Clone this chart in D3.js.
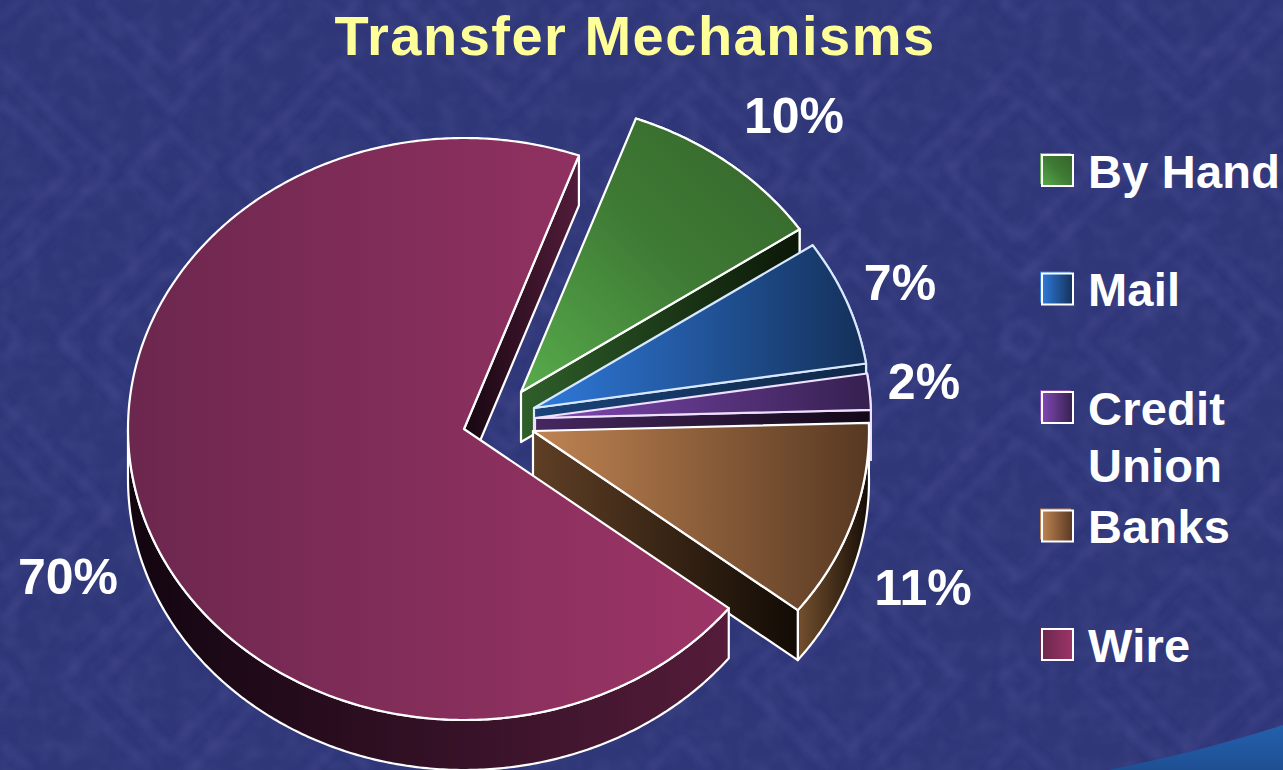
<!DOCTYPE html>
<html>
<head>
<meta charset="utf-8">
<title>Transfer Mechanisms</title>
<script src="https://cdn.jsdelivr.net/npm/d3@7"></script>
<style>
  html, body { margin: 0; padding: 0; background: #2f3779; overflow: hidden; }
  svg { display: block; }
  text { font-family: "Liberation Sans", Arial, sans-serif; font-weight: 700; fill: #ffffff; }
</style>
</head>
<body>
<script>
const categories = ["By Hand", "Mail", "Credit Union", "Banks", "Wire"];
const shares = [10, 7, 2, 11, 70];
const shareLabels = ["10%", "7%", "2%", "11%", "70%"];
const title = "Transfer Mechanisms";

const svgWidth = 1283;
const svgHeight = 770;

// Measurements

const rx = 336;
const ry = 291;
const depth = 50;
const rotation = 20;

// Where each wedge's tip ends up once it is pulled out of the pie
const tips = {
  "By Hand": [521, 392],
  Mail: [534, 408],
  "Credit Union": [535, 418],
  Banks: [533, 431],
  Wire: [464, 429],
};

// Label centre, relative to the tip of its wedge
const labelOffsets = {
  "By Hand": [273, -259],
  Mail: [366, -108],
  "Credit Union": [389, -19],
  Banks: [390, 174],
  Wire: [-396, 165],
};

const palette = {
  "By Hand": {
    top: ["#58ac4c", "#3f7b35", "#33632a"], diagonal: true,
    wall: ["#2f5f2a", "#0b1707"], rim: ["#2f5f2a", "#0b1707"], edge: "#ffffff",
  },
  Mail: {
    top: ["#2f7adb", "#14305a"],
    wall: ["#1a4378", "#0f2748"], rim: ["#1a4378", "#0f2748"], edge: "#d8e8ff",
  },
  "Credit Union": {
    top: ["#8149b4", "#35204f"],
    wall: ["#462860", "#120716"], rim: ["#2a1638", "#120716"], edge: "#f0e0ff",
  },
  Banks: {
    top: ["#c08452", "#573822"],
    wall: ["#5f3f25", "#120b05"], rim: ["#74502e", "#150d06"], edge: "#ffffff",
  },
  Wire: {
    top: ["#6c274e", "#9d3567"],
    wall: ["#170711", "#531c3a"], rim: ["#120510", "#541c3a"], edge: "#ffffff",
  },
};

const svg = d3
  .select("body")
  .append("svg")
  .attr("width", svgWidth)
  .attr("height", svgHeight)
  .attr("viewBox", `0 0 ${svgWidth} ${svgHeight}`);

const defs = svg.append("defs");

// Background

const motif = defs
  .append("pattern")
  .attr("id", "motif")
  .attr("patternUnits", "userSpaceOnUse")
  .attr("width", 340)
  .attr("height", 340);

[
  "M0 60 L110 170 L0 280",
  "M340 60 L230 170 L340 280",
  "M60 0 L170 110 L280 0",
  "M60 340 L170 230 L280 340",
  "M0 100 L70 170 L0 240",
  "M340 100 L270 170 L340 240",
  "M100 0 L170 70 L240 0",
  "M100 340 L170 270 L240 340",
  "M170 130 L210 170 L170 210 L130 170 Z",
  "M0 20 L20 0 M320 0 L340 20 M0 320 L20 340 M320 340 L340 320",
].forEach((d) =>
  motif
    .append("path")
    .attr("d", d)
    .attr("fill", "none")
    .attr("stroke", "#3a4183")
    .attr("stroke-width", 7)
);

defs
  .append("filter")
  .attr("id", "soften")
  .append("feGaussianBlur")
  .attr("stdDeviation", 3.2);

const mottle = defs
  .append("filter")
  .attr("id", "mottle")
  .attr("x", 0)
  .attr("y", 0)
  .attr("width", 1)
  .attr("height", 1);
mottle
  .append("feTurbulence")
  .attr("type", "fractalNoise")
  .attr("baseFrequency", 0.05)
  .attr("numOctaves", 2)
  .attr("seed", 4);
mottle
  .append("feColorMatrix")
  .attr("values", "0 0 0 0 0.2  0 0 0 0 0.22  0 0 0 0 0.47  0 0 0 1.6 -0.6");

svg.append("rect").attr("width", svgWidth).attr("height", svgHeight).attr("fill", "#2f3779");
svg
  .append("rect")
  .attr("width", svgWidth)
  .attr("height", svgHeight)
  .attr("fill", "url(#motif)")
  .attr("filter", "url(#soften)")
  .attr("opacity", 0.8);
svg
  .append("rect")
  .attr("width", svgWidth)
  .attr("height", svgHeight)
  .attr("filter", "url(#mottle)")
  .attr("opacity", 0.15);

const swoosh = defs
  .append("linearGradient")
  .attr("id", "swoosh")
  .attr("x1", 0)
  .attr("y1", 0)
  .attr("x2", 0)
  .attr("y2", 1);
swoosh.append("stop").attr("offset", 0).attr("stop-color", "#2460ad");
swoosh.append("stop").attr("offset", 1).attr("stop-color", "#1f4f93");

svg
  .append("path")
  .attr("d", "M1108 770 Q1200 752 1283 725 L1283 770 Z")
  .attr("fill", "url(#swoosh)");

// Gradients

const slug = (name) => name.replace(/\s+/g, "");

const addGradient = (id, colors, diagonal) => {
  const gradient = defs
    .append("linearGradient")
    .attr("id", id)
    .attr("x1", 0)
    .attr("y1", diagonal ? 1 : 0)
    .attr("x2", 1)
    .attr("y2", 0);
  colors.forEach((color, i) =>
    gradient
      .append("stop")
      .attr("offset", i / (colors.length - 1))
      .attr("stop-color", color)
  );
};

categories.forEach((name) => {
  const colors = palette[name];
  addGradient(`top${slug(name)}`, colors.top, colors.diagonal);
  addGradient(`wall${slug(name)}`, colors.wall);
  addGradient(`rim${slug(name)}`, colors.rim);
});

// Wedges

const pie = d3
  .pie()
  .sort(null)
  .startAngle((rotation * Math.PI) / 180)
  .endAngle(((rotation + 360) * Math.PI) / 180);

const slices = pie(shares);

const rim = (tip, angle, drop = 0) => [
  tip[0] + rx * Math.sin(angle),
  tip[1] - ry * Math.cos(angle) + drop,
];

const arcPoints = (tip, from, to, drop = 0) => {
  const steps = Math.max(2, Math.ceil(Math.abs(to - from) / 0.01));
  const angle = d3.scaleLinear().domain([0, steps]).range([from, to]);
  return d3.range(steps + 1).map((i) => rim(tip, angle(i), drop));
};

const closedLine = d3.line().curve(d3.curveLinearClosed);

const chart = svg.append("g").attr("stroke-linejoin", "round");

slices.forEach((slice, i) => {
  const name = categories[i];
  const tip = tips[name];
  const group = chart.append("g").attr("stroke", palette[name].edge).attr("stroke-width", 2.2);

  // Outer wall, front half of the ellipse only
  const wallFrom = Math.max(slice.startAngle, 0);
  const wallTo = Math.min(slice.endAngle, (3 * Math.PI) / 2);
  group
    .append("path")
    .attr(
      "d",
      closedLine([
        ...arcPoints(tip, wallFrom, wallTo),
        ...arcPoints(tip, wallTo, wallFrom, depth),
      ])
    )
    .attr("fill", `url(#rim${slug(name)})`);

  // Cut face along the clockwise edge of the wedge
  group
    .append("path")
    .attr(
      "d",
      closedLine([
        tip,
        rim(tip, slice.endAngle),
        rim(tip, slice.endAngle, depth),
        [tip[0], tip[1] + depth],
      ])
    )
    .attr("fill", `url(#wall${slug(name)})`);

  // Top face
  group
    .append("path")
    .attr("d", closedLine([tip, ...arcPoints(tip, slice.startAngle, slice.endAngle)]))
    .attr("fill", `url(#top${slug(name)})`);
});

// Percentages

svg
  .append("g")
  .selectAll("text")
  .data(slices)
  .enter()
  .append("text")
  .attr("x", (_, i) => tips[categories[i]][0] + labelOffsets[categories[i]][0])
  .attr("y", (_, i) => tips[categories[i]][1] + labelOffsets[categories[i]][1])
  .attr("text-anchor", "middle")
  .attr("font-size", 50)
  .text((_, i) => shareLabels[i]);

// Title

svg
  .append("text")
  .attr("x", 635)
  .attr("y", 55)
  .attr("text-anchor", "middle")
  .attr("font-size", 56)
  .attr("letter-spacing", 1.5)
  .style("fill", "#ffff99")
  .text(title);

// Legend

const legendY = d3.scalePoint().domain(categories).range([170.5, 644.5]);
const swatch = 31;
const wrapped = { "Credit Union": ["Credit", "Union"] };

const legend = svg
  .append("g")
  .selectAll("g")
  .data(categories)
  .enter()
  .append("g")
  .attr("transform", (name) => `translate(1042, ${legendY(name)})`);

legend
  .append("rect")
  .attr("x", -2)
  .attr("y", -swatch / 2 - 2)
  .attr("width", swatch)
  .attr("height", swatch)
  .attr("fill", (name) => palette[name].top[0]);

legend
  .append("rect")
  .attr("y", -swatch / 2)
  .attr("width", swatch)
  .attr("height", swatch)
  .attr("fill", (name) => `url(#top${slug(name)})`)
  .attr("stroke", "#ffffff")
  .attr("stroke-width", 2);

legend
  .append("text")
  .attr("font-size", 47)
  .attr("letter-spacing", 0.2)
  .attr("y", 17)
  .selectAll("tspan")
  .data((name) => wrapped[name] || [name])
  .enter()
  .append("tspan")
  .attr("x", 46)
  .attr("dy", (_, i) => (i ? 57 : 0))
  .text((line) => line);
</script>
</body>
</html>
